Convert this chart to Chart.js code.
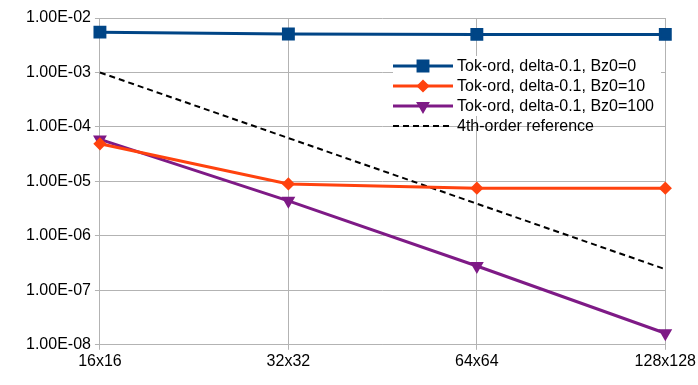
<!DOCTYPE html>
<html lang="en">
<head>
    <meta charset="UTF-8">
    <title>Convergence</title>
    <script src="https://cdn.jsdelivr.net/npm/chart.js"></script>
    <style>
        * { margin: 0; padding: 0; box-sizing: border-box; }
        body { background: #fff; width: 698px; height: 385px; overflow: hidden; }
        .wrap { position: relative; width: 698px; height: 385px; }
    </style>
</head>
<body>
    <div class="wrap"><canvas id="chart"></canvas></div>
    <script>
        var categories = ['16x16', '32x32', '64x64', '128x128'];
        var bz0 = [5.5e-3, 5.1e-3, 5.0e-3, 5.0e-3];
        var bz10 = [4.9e-5, 9.0e-6, 7.5e-6, 7.5e-6];
        var bz100 = [5.9e-5, 4.4e-6, 2.8e-7, 1.63e-8];
        var ref4 = [1.0e-3, 6.25e-5, 3.9e-6, 2.44e-7];
        var yTicks = [1e-8, 1e-7, 1e-6, 1e-5, 1e-4, 1e-3, 1e-2];
        var yTickLabels = ['1.00E-08', '1.00E-07', '1.00E-06', '1.00E-05', '1.00E-04', '1.00E-03', '1.00E-02'];
        var seriesNames = ['Tok-ord, delta-0.1, Bz0=0', 'Tok-ord, delta-0.1, Bz0=10', 'Tok-ord, delta-0.1, Bz0=100', '4th-order reference'];

        var font = "'Liberation Sans', Arial, sans-serif";

        // legend drawn inside the plot, top right
        var insideLegend = {
            id: 'insideLegend',
            afterDatasetsDraw: function (chart) {
                var ctx = chart.ctx;
                var x0 = 393, y0 = 66, step = 20;
                ctx.save();
                ctx.fillStyle = '#fff';
                ctx.fillRect(x0, y0 - 10, 268, 3 * step);
                chart.data.datasets.forEach(function (ds, i) {
                    var y = y0 + i * step;
                    ctx.strokeStyle = ds.borderColor;
                    ctx.lineWidth = ds.borderWidth;
                    ctx.setLineDash(ds.borderDash || []);
                    ctx.beginPath();
                    ctx.moveTo(x0, y);
                    ctx.lineTo(x0 + 60, y);
                    ctx.stroke();
                    ctx.setLineDash([]);
                    if (ds.pointRadius > 0) {
                        ctx.fillStyle = ds.backgroundColor;
                        ctx.strokeStyle = ds.borderColor;
                        Chart.helpers.drawPoint(ctx, {
                            pointStyle: ds.pointStyle,
                            rotation: ds.pointRotation || 0,
                            radius: ds.pointRadius,
                            borderWidth: 1
                        }, x0 + 30, y);
                    }
                    ctx.fillStyle = '#000';
                    ctx.font = '16px ' + font;
                    ctx.textBaseline = 'middle';
                    ctx.fillText(ds.label, x0 + 64, y + 1);
                });
                ctx.restore();
            }
        };

        new Chart(document.getElementById('chart'), {
            type: 'line',
            data: {
                labels: categories,
                datasets: [{
                    label: seriesNames[0],
                    data: bz0,
                    borderColor: '#004586',
                    backgroundColor: '#004586',
                    borderWidth: 3,
                    pointStyle: 'rect',
                    pointRadius: 7,
                    clip: false
                }, {
                    label: seriesNames[1],
                    data: bz10,
                    borderColor: '#ff420e',
                    backgroundColor: '#ff420e',
                    borderWidth: 3,
                    pointStyle: 'rectRot',
                    pointRadius: 4.5,
                    clip: false
                }, {
                    label: seriesNames[2],
                    data: bz100,
                    borderColor: '#7e1a86',
                    backgroundColor: '#7e1a86',
                    borderWidth: 3,
                    pointStyle: 'triangle',
                    pointRotation: 180,
                    pointRadius: 5,
                    clip: false
                }, {
                    label: seriesNames[3],
                    data: ref4,
                    borderColor: '#000',
                    backgroundColor: '#000',
                    borderWidth: 2,
                    borderDash: [6, 4],
                    pointRadius: 0,
                    clip: false
                }]
            },
            options: {
                responsive: true,
                maintainAspectRatio: false,
                animation: false,
                layout: { padding: { top: 18, right: 0, left: 22, bottom: 12 } },
                plugins: {
                    legend: { display: false },
                    tooltip: { enabled: false }
                },
                scales: {
                    x: {
                        type: 'category',
                        offset: false,
                        grid: { color: '#b3b3b3', tickLength: 5, drawTicks: true },
                        border: { color: '#b3b3b3' },
                        ticks: { color: '#000', font: { family: font, size: 16 }, maxRotation: 0, padding: 2 }
                    },
                    y: {
                        type: 'logarithmic',
                        min: 1e-8,
                        max: 1e-2,
                        grid: { color: '#b3b3b3', tickLength: 5 },
                        border: { color: '#b3b3b3' },
                        afterBuildTicks: function (scale) {
                            scale.ticks = yTicks.map(function (v) { return { value: v }; });
                        },
                        ticks: {
                            color: '#000',
                            font: { family: font, size: 16 },
                            padding: 4,
                            callback: function (value) {
                                var i = yTicks.findIndex(function (t) { return Math.abs(Math.log10(t) - Math.log10(value)) < 1e-6; });
                                return i >= 0 ? yTickLabels[i] : '';
                            }
                        }
                    }
                }
            },
            plugins: [insideLegend]
        });
    </script>
</body>
</html>
